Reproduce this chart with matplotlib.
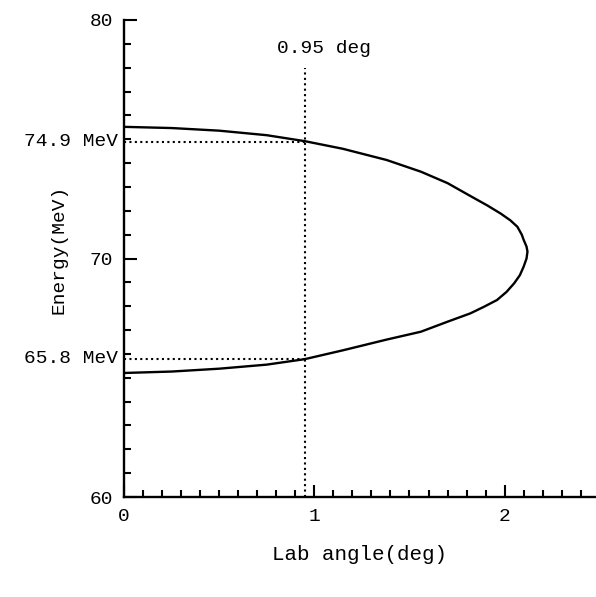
import matplotlib
matplotlib.use('Agg')
import matplotlib.pyplot as plt
from matplotlib.ticker import MultipleLocator

# kinematic curve (upper branch, then lower branch)
angle = [0.0, 0.25, 0.5, 0.75, 0.95, 1.15, 1.38, 1.56, 1.70, 1.82, 1.91, 1.98,
         2.03, 2.067, 2.09, 2.10, 2.115, 2.12,
         2.115, 2.10, 2.08, 2.05, 2.01, 1.96, 1.89, 1.82, 1.70, 1.56, 1.38,
         1.15, 0.95, 0.75, 0.5, 0.25, 0.0]
energy = [75.52, 75.47, 75.36, 75.17, 74.92, 74.6, 74.13, 73.64, 73.16, 72.62,
          72.22, 71.88, 71.6, 71.33, 71.0, 70.78, 70.5, 70.29,
          70.0, 69.66, 69.3, 68.96, 68.6, 68.26, 67.97, 67.7, 67.35, 66.93,
          66.6, 66.15, 65.78, 65.55, 65.38, 65.26, 65.2]

cut_angle = 0.95
cut_top = 78.0
e_high = 74.9
e_low = 65.8

x_ticks = [0, 1, 2]
y_ticks = [60, 70, 80]

plt.rcParams['font.family'] = ['Liberation Mono', 'DejaVu Sans Mono']

fig = plt.figure(figsize=(5.96, 5.97), dpi=100)
ax = fig.add_axes([0.208, 0.1675, 0.792, 0.799])

ax.plot(angle, energy, color='black', lw=1.7)

dots = (0, (1, 1.6))
ax.plot([cut_angle, cut_angle], [60, cut_top], color='black', lw=1.5, ls=dots)
ax.plot([0, cut_angle], [e_high, e_high], color='black', lw=1.5, ls=dots)
ax.plot([0, cut_angle], [e_low, e_low], color='black', lw=1.5, ls=dots)

ax.set_xlim(0, 2.48)
ax.set_ylim(60, 80)

ax.spines['top'].set_visible(False)
ax.spines['right'].set_visible(False)
ax.spines['left'].set_linewidth(1.7)
ax.spines['bottom'].set_linewidth(1.7)

ax.set_xticks(x_ticks)
ax.set_xticklabels([str(t) for t in x_ticks])
ax.set_yticks(y_ticks)
ax.set_yticklabels([str(t) for t in y_ticks])
ax.xaxis.set_minor_locator(MultipleLocator(0.1))
ax.yaxis.set_minor_locator(MultipleLocator(1))
ax.tick_params(which='major', direction='in', length=9, width=1.5, labelsize=14, pad=8)
ax.tick_params(which='minor', direction='in', length=5, width=1.5)

ax.text(-0.03, e_high, '74.9 MeV', ha='right', va='center', fontsize=14)
ax.text(-0.03, e_low, '65.8 MeV', ha='right', va='center', fontsize=14)
ax.text(1.05, 78.8, '0.95 deg', ha='center', va='center', fontsize=14)

ax.set_xlabel('Lab angle(deg)', fontsize=15, labelpad=14)
ax.set_ylabel('Energy(MeV)', fontsize=14, labelpad=10)
ax.yaxis.set_label_coords(-0.12, 0.52)

fig.savefig('out.png', dpi=100)
